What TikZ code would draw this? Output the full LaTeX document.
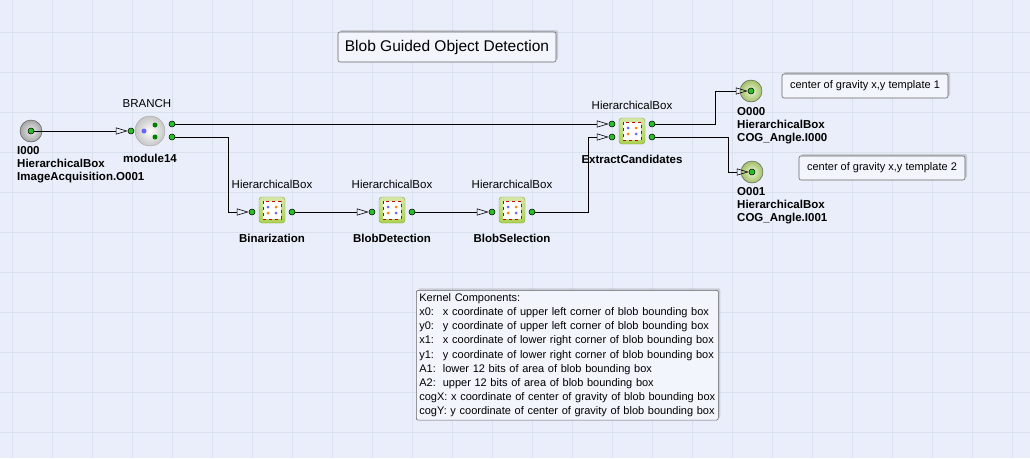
\documentclass[tikz,border=0pt]{standalone}
\usepackage{fontspec}
\setmainfont{Liberation Sans}
\usetikzlibrary{arrows.meta,shadows,shadings}
\begin{document}
\definecolor{bg}{RGB}{233,238,250}
\definecolor{gridc}{RGB}{218,226,240}
\definecolor{dotg}{RGB}{40,190,40}
\definecolor{boxg}{RGB}{170,210,80}
\definecolor{outg}{RGB}{190,225,120}
\begin{tikzpicture}[x=1pt,y=-1pt,
  every node/.style={font=\fontsize{11.5}{13}\selectfont},
  dot/.style={circle,fill=dotg,draw=black,line width=0.5pt,inner sep=0pt,minimum size=6pt},
  arr/.style={-{Triangle[open,length=12pt,width=7pt]},line width=0.6pt},
  wire/.style={line width=0.6pt},
  hbox/.style={rounded corners=3pt,draw=boxg!80!black,top color=boxg!50!white,bottom color=boxg,minimum size=26pt,inner sep=0pt},
  lbl/.style={font=\fontsize{11.5}{13}\selectfont\bfseries},
  note/.style={draw=gray!80!black,rounded corners=2pt,fill=bg!60!white,line width=0.6pt,align=left,inner sep=4pt,drop shadow={opacity=0.3,shadow xshift=2pt,shadow yshift=2pt}},
  port/.style={circle,draw=gray!60!black,minimum size=22pt,inner sep=0pt},
]
\useasboundingbox (0,0) rectangle (1030,458);
\fill[bg] (0,0) rectangle (1030,458);
\foreach \x in {12,52,...,1030} \draw[gridc] (\x,0) -- (\x,458);
\foreach \y in {32,72,...,458} \draw[gridc] (0,\y) -- (1030,\y);

% title
\node[note,minimum width=218pt,minimum height=30pt,font=\fontsize{15.5}{17}\selectfont] (title) at (447,47) {Blob Guided Object Detection};

% input
\node[port,inner color=gray!15,outer color=gray!70] (in) at (31,131) {};
\node[dot] (ind) at (31,131) {};
\node[lbl,align=left,anchor=north west,inner sep=0pt] (inl) at (17,146) {I000\\HierarchicalBox\\ImageAcquisition.O001};

% branch
\node[circle,draw=gray!70,inner color=white,outer color=gray!45,minimum size=30pt,inner sep=0pt] (br) at (150,131) {};
\node[circle,fill=blue!60,inner sep=0pt,minimum size=5pt] (bri) at (144,131) {};
\node[circle,fill=green!50!black,inner sep=0pt,minimum size=5pt] (bro1) at (155,125) {};
\node[circle,fill=green!50!black,inner sep=0pt,minimum size=5pt] (bro2) at (155,137) {};
\node[dot] (brin) at (131,131) {};
\node[dot] (bo1) at (172,124) {};
\node[dot] (bo2) at (172,137) {};
\node (brt) at (147,104) {BRANCH};
\node[lbl] (brb) at (150,158) {module14};

% hierarchical boxes
\foreach \n/\x/\y/\t in {bin/272/210/Binarization,bdet/392/210/BlobDetection,bsel/512/210/BlobSelection,ext/632/131/ExtractCandidates}{
  \node[hbox] (\n) at (\x,\y) {};
  \draw[red!80!black,dashed,line width=0.6pt,fill=white] (\x-9,\y-9) rectangle (\x+9,\y+9);
  \node[circle,fill=blue!60,inner sep=0pt,minimum size=3pt] at (\x-4,\y-3) {};
  \node[circle,fill=orange,inner sep=0pt,minimum size=3pt] at (\x+4,\y-3) {};
  \node[circle,fill=orange,inner sep=0pt,minimum size=3pt] at (\x-4,\y+3) {};
  \node[circle,fill=blue!60,inner sep=0pt,minimum size=3pt] at (\x+4,\y+3) {};
  \node (\n t) at (\x,\y-26) {HierarchicalBox};
  \node[lbl] (\n b) at (\x,\y+28) {\t};
}
\node[dot] (bini) at (252,212) {};
\node[dot] (bino) at (292,212) {};
\node[dot] (bdeti) at (372,212) {};
\node[dot] (bdeto) at (412,212) {};
\node[dot] (bseli) at (492,212) {};
\node[dot] (bselo) at (532,212) {};
\node[dot] (exti1) at (612,124) {};
\node[dot] (exti2) at (612,137) {};
\node[dot] (exto1) at (652,124) {};
\node[dot] (exto2) at (652,137) {};

% outputs
\node[port,inner color=outg!30!white,outer color=outg!85!black] (o0) at (751,91) {};
\node[dot] (o0d) at (751,91) {};
\node[port,inner color=outg!30!white,outer color=outg!85!black] (o1) at (752,172) {};
\node[dot] (o1d) at (752,172) {};
\node[lbl,align=left,anchor=north west,inner sep=0pt] (o0l) at (737,107) {O000\\HierarchicalBox\\COG\_Angle.I000};
\node[lbl,align=left,anchor=north west,inner sep=0pt] (o1l) at (737,187) {O001\\HierarchicalBox\\COG\_Angle.I001};

% wires
\coordinate (a0) at (114,131);
\draw[wire] (ind) -- (a0);
\draw[arr] (a0) -- (brin.west);
\coordinate (a1) at (596,124);
\draw[wire] (bo1) -- (a1);
\draw[arr] (a1) -- (exti1.west);
\coordinate (a2) at (234,212);
\draw[wire] (bo2) -| (228,212) -- (a2);
\draw[arr] (a2) -- (bini.west);
\coordinate (a3) at (354,212);
\draw[wire] (bino) -- (a3);
\draw[arr] (a3) -- (bdeti.west);
\coordinate (a4) at (474,212);
\draw[wire] (bdeto) -- (a4);
\draw[arr] (a4) -- (bseli.west);
\coordinate (a5) at (596,137);
\draw[wire] (bselo) -| (588,137) -- (a5);
\draw[arr] (a5) -- (exti2.west);
\coordinate (a6) at (730,91);
\draw[wire] (exto1) -| (715,91) -- (a6);
\draw[arr] (a6) -- (o0d.west);
\coordinate (a7) at (732,172);
\draw[wire] (exto2) -| (728,172) -- (a7);
\draw[arr] (a7) -- (o1d.west);

% notes
\node[note,minimum width=166pt,minimum height=24pt,font=\fontsize{11}{12}\selectfont] (n1) at (865,86) {center of gravity x,y template 1};
\node[note,minimum width=166pt,minimum height=24pt,font=\fontsize{11}{12}\selectfont] (n2) at (882,168) {center of gravity x,y template 2};
\node[note,anchor=north west,font=\fontsize{11}{14.2}\selectfont,text width=296pt,inner sep=3pt] (k) at (416,290) {Kernel Components:\\
x0:\hspace{9pt}x coordinate of upper left corner of blob bounding box\\
y0:\hspace{9pt}y coordinate of upper left corner of blob bounding box\\
x1:\hspace{9pt}x coordinate of lower right corner of blob bounding box\\
y1:\hspace{9pt}y coordinate of lower right corner of blob bounding box\\
A1:\hspace{7pt}lower 12 bits of area of blob bounding box\\
A2:\hspace{7pt}upper 12 bits of area of blob bounding box\\
cogX: x coordinate of center of gravity of blob bounding box\\
cogY: y coordinate of center of gravity of blob bounding box};
\end{tikzpicture}
\end{document}
